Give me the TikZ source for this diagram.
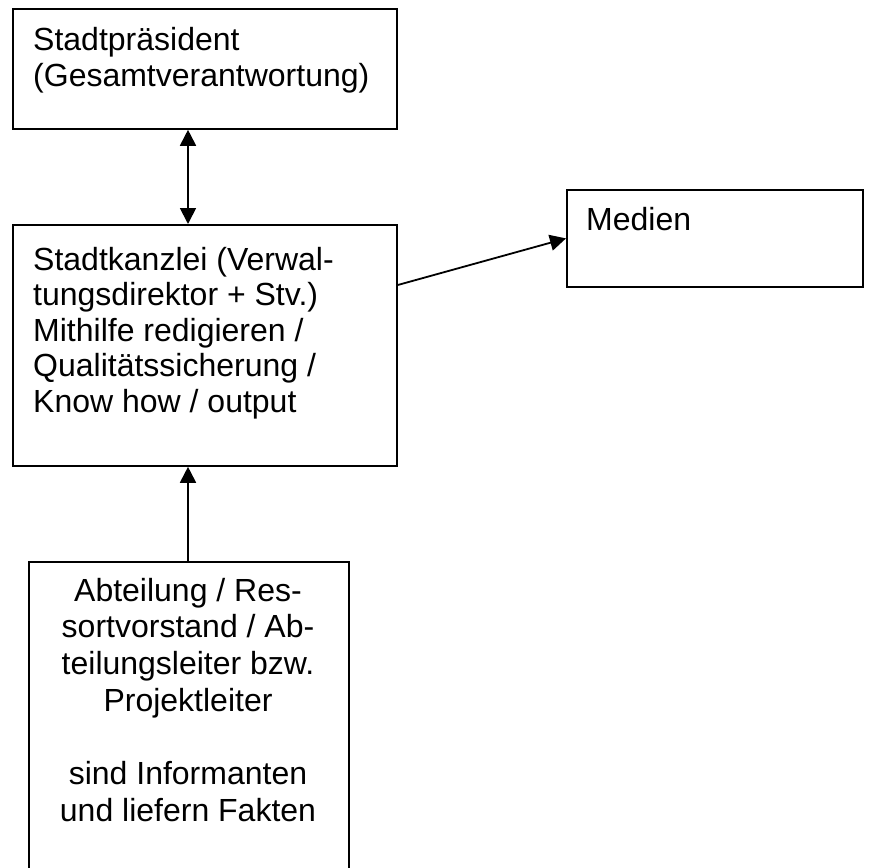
\documentclass[tikz,border=0pt]{standalone}
\usepackage{fontspec}
\setmainfont{Liberation Sans}
\usetikzlibrary{arrows.meta,calc}
\begin{document}
\begin{tikzpicture}[x=1pt,y=-1pt,
  box/.style={draw, line width=1.8pt, rectangle, inner sep=0pt, anchor=north west},
  txt/.style={font=\fontsize{32}{36}\selectfont, inner sep=0pt},
  >={Triangle[length=16pt,width=16pt]},
  arr/.style={line width=1.8pt}]
\useasboundingbox (0,0) rectangle (877,867);
\node[box, minimum width=384pt, minimum height=120pt] (pres) at (12,8) {};
\node[box, minimum width=384pt, minimum height=241pt] (kanz) at (12,224) {};
\node[box, minimum width=296pt, minimum height=97pt] (med) at (566,189) {};
\node[box, minimum width=320pt, minimum height=312pt] (abt) at (28,561) {};
\coordinate (ax) at (188,0);
\coordinate (ks) at ($(kanz.north east)+(0,61)$);
\draw[arr, <->] (ax |- pres.south) -- (ax |- kanz.north);
\draw[arr, ->] (ax |- abt.north) -- (ax |- kanz.south);
\draw[arr, ->] (ks) -- (med.west);
% texts
\node[txt, anchor=base west] (p1) at (33,51) {Stadtpräsident};
\node[txt, anchor=base west] (p2) at (33,86) {(Gesamtverantwortung)};
\node[txt, anchor=base west] (k1) at (33,270) {Stadtkanzlei (Verwal-};
\node[txt, anchor=base west] (k2) at (33,305.5) {tungsdirektor + Stv.)};
\node[txt, anchor=base west] (k3) at (33,341) {Mithilfe redigieren /};
\node[txt, anchor=base west] (k4) at (33,376.5) {Qualitätssicherung /};
\node[txt, anchor=base west] (k5) at (33,412) {Know how / output};
\node[txt, anchor=base west] (m1) at (586,230) {Medien};
\node[txt, anchor=base] (a1) at (188,601) {Abteilung / Res-};
\node[txt, anchor=base] (a2) at (188,637.7) {sortvorstand / Ab-};
\node[txt, anchor=base] (a3) at (188,674.4) {teilungsleiter bzw.};
\node[txt, anchor=base] (a4) at (188,711.1) {Projektleiter};
\node[txt, anchor=base] (a5) at (188,784.5) {sind Informanten};
\node[txt, anchor=base] (a6) at (188,821.2) {und liefern Fakten};
\end{tikzpicture}
\end{document}
